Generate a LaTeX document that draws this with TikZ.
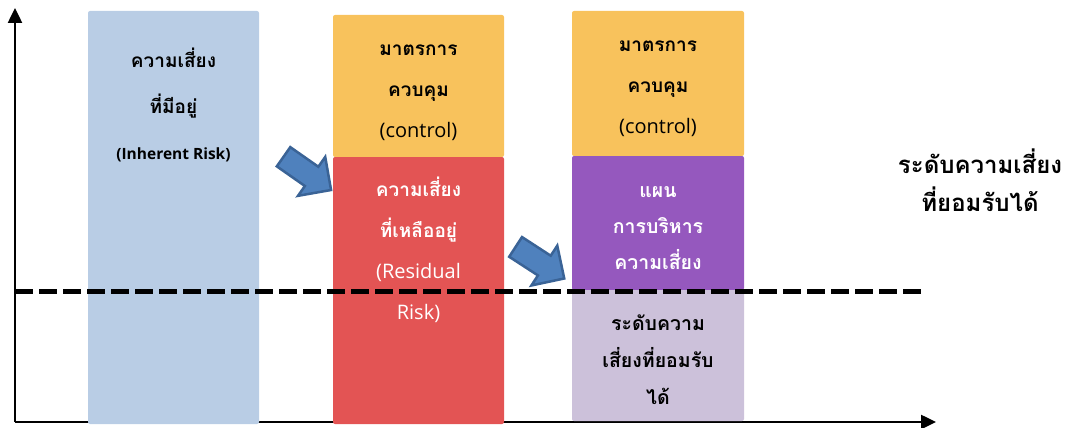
\documentclass[tikz,border=0pt]{standalone}
\usepackage{fontspec}
\setmainfont[Script=Thai]{Loma}
\newfontfamily\latinf{Open Sans}
\usetikzlibrary{arrows.meta,shapes.arrows}
\definecolor{bluebox}{HTML}{B9CDE5}
\definecolor{orangebox}{HTML}{F8C25C}
\definecolor{redbox}{HTML}{E35454}
\definecolor{purplebox}{HTML}{9558BE}
\definecolor{lavbox}{HTML}{CCC1DA}
\definecolor{arrfill}{HTML}{4F81BD}
\definecolor{arrline}{HTML}{3A6396}
\newcommand{\lat}[2][20]{{\latinf\mdseries\fontsize{#1}{41}\selectfont #2}}
\begin{document}
\begin{tikzpicture}[x=1pt,y=-1pt,
  axis/.style={line width=2.5pt,-{Triangle[length=15pt,width=14pt]}},
  box/.style={rectangle,rounded corners=2pt,inner sep=0pt,draw=none},
  lbl/.style={align=center,font=\bfseries\fontsize{19}{41}\selectfont},
  barrow/.style={single arrow,fill=arrfill,draw=arrline,line width=2.5pt,
    single arrow head extend=12pt,inner xsep=0pt,inner ysep=10.5pt,minimum height=58pt},
  level/.style={line width=5pt,dash pattern=on 18pt off 6pt}]
\useasboundingbox (0,0) rectangle (1068,428);
% axes
\coordinate (O) at (15,422);
\coordinate (Y) at (15,8);
\coordinate (X) at (936,422);
\draw[axis] (O) -- (Y);
\draw[axis] (O) -- (X);
% boxes
\node[box,fill=bluebox,minimum width=171pt,minimum height=413pt] (blue) at (173.5,217.5) {};
\node[box,fill=orangebox,minimum width=171pt,minimum height=142pt] (or1) at (418.5,86) {};
\node[box,fill=redbox,minimum width=171pt,minimum height=267pt] (red) at (418.5,290.5) {};
\node[box,fill=orangebox,minimum width=172pt,minimum height=145pt] (or2) at (658,83.5) {};
\node[box,fill=purplebox,minimum width=172pt,minimum height=134pt] (pur) at (658,223) {};
\node[box,fill=lavbox,minimum width=172pt,minimum height=131pt] (lav) at (658,355.5) {};
% texts
\node[lbl,font=\bfseries\fontsize{19}{46}\selectfont] (tblue) at (173.5,105) {ความเสี่ยง\\ที่มีอยู่\\{\latinf\bfseries\fontsize{15.5}{41}\selectfont (Inherent Risk)}};
\node[lbl] (tor1) at (418.5,93) {มาตรการ\\ควบคุม\\\lat{(control)}};
\node[lbl,text=white] (tred) at (418.5,250) {ความเสี่ยง\\ที่เหลืออยู่\\\lat{(Residual}\\\lat{Risk)}};
\node[lbl] (tor2) at (658,89) {มาตรการ\\ควบคุม\\\lat{(control)}};
\node[lbl,text=white,font=\bfseries\fontsize{19.5}{36}\selectfont] (tpur) at (658,228) {แผน\\การบริหาร\\ความเสี่ยง};
\node[lbl,font=\bfseries\fontsize{19.5}{37}\selectfont] (tlav) at (658,360) {ระดับความ\\เสี่ยงที่ยอมรับ\\ได้};
\node[lbl,font=\bfseries\fontsize{24}{38}\selectfont] (tright) at (980,180) {ระดับความเสี่ยง\\ที่ยอมรับได้};
% block arrows
\node[barrow,rotate=-35] (a1) at (302.5,170) {};
\node[barrow,rotate=-33] (a2) at (535,259.5) {};
% acceptable level
\coordinate (d1) at (15,291);
\coordinate (d2) at (922,291);
\draw[level] (d1) -- (d2);
\end{tikzpicture}
\end{document}
